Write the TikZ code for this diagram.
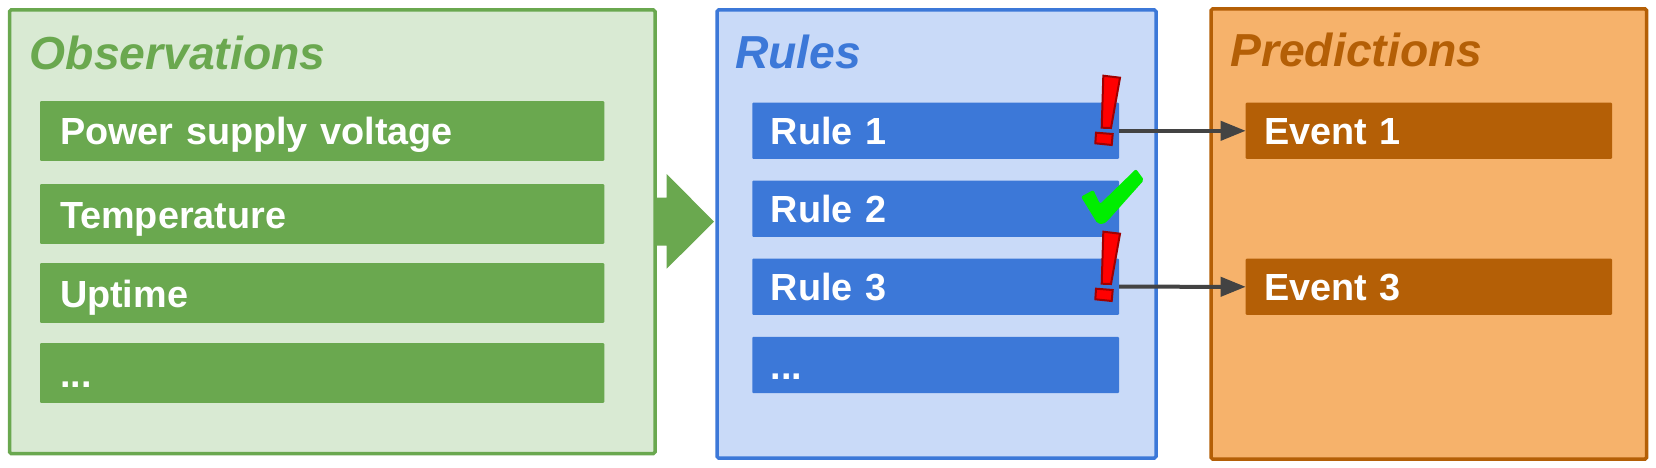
\documentclass[tikz,border=0pt]{standalone}
\usepackage{fontspec}
\setmainfont{Liberation Sans}
\usetikzlibrary{arrows.meta}
\definecolor{obsfill}{HTML}{D9EAD3}
\definecolor{obsdark}{HTML}{6AA84F}
\definecolor{rulfill}{HTML}{C9DAF8}
\definecolor{ruldark}{HTML}{3C78D8}
\definecolor{prefill}{HTML}{F6B26B}
\definecolor{predark}{HTML}{B45F06}
\definecolor{conncol}{HTML}{434343}
\definecolor{bangred}{HTML}{FF0000}
\definecolor{bangedge}{HTML}{A00000}
\definecolor{checkgreen}{HTML}{00EE00}
\begin{document}
\begin{tikzpicture}[x=1pt,y=-1pt,
  panel/.style 2 args={draw=#1, fill=#2, line width=3.5pt, rounded corners=1.5pt,
    anchor=north west, outer sep=0pt, inner sep=0pt},
  bar/.style={fill=#1, anchor=west, outer sep=0pt, inner xsep=18.5pt, inner ysep=0pt,
    text=white, font=\fontsize{37.8}{40}\selectfont\bfseries,
    text height=33pt, text depth=5pt, align=left, rounded corners=1pt},
  title/.style={anchor=base west, inner sep=0pt, text=#1,
    font=\fontsize{46.3}{50}\selectfont\bfseries\itshape},
  conn/.style={draw=conncol, line width=4pt, -{Triangle[length=25pt,width=19pt]}},
  bangmark/.pic={
    \filldraw[fill=bangred, draw=bangedge, line width=2pt]
      (-4.7,-34.3) -- (12,-32.3) -- (3,18) -- (-6.3,17.7) -- cycle;
    \filldraw[fill=bangred, draw=bangedge, line width=2pt]
      (-12,22.7) -- (4.7,24) -- (3.7,35) -- (-12.7,33.3) -- cycle;
  },
]
\useasboundingbox (0,0) rectangle (1656,468);

% panels
\node[panel={obsdark}{obsfill}, minimum width=645.5pt, minimum height=443.5pt] (obs) at (9.5,10) {};
\node[panel={ruldark}{rulfill}, minimum width=439pt, minimum height=448pt] (rules) at (717,10) {};
\node[panel={predark}{prefill}, minimum width=435.5pt, minimum height=450pt] (pred) at (1211,9) {};

% titles
\node[title=obsdark] (obst) at (29.5,69.3) {Observations};
\node[title=ruldark] (rult) at (735,68.3) {Rules};
\node[title=predark] (pret) at (1230,67) {Predictions};

% observation bars
\node[bar=obsdark, text width=524.3pt, minimum height=59.7pt, inner xsep=20pt] (o1) at (40,131) {Power supply voltage};
\node[bar=obsdark, text width=524.3pt, minimum height=59.7pt, inner xsep=20pt] (o2) at (40,214) {Temperature};
\node[bar=obsdark, text width=524.3pt, minimum height=59.7pt, inner xsep=20pt] (o3) at (40,293) {Uptime};
\node[bar=obsdark, text width=524.3pt, minimum height=59.7pt, inner xsep=20pt] (o4) at (40,373) {...};

% rule bars
\node[bar=ruldark, text width=329.7pt, minimum height=56.3pt] (r1) at (752.3,130.8) {Rule 1};
\node[bar=ruldark, text width=329.7pt, minimum height=56.3pt] (r2) at (752.3,208.8) {Rule 2};
\node[bar=ruldark, text width=329.7pt, minimum height=56.3pt] (r3) at (752.3,286.7) {Rule 3};
\node[bar=ruldark, text width=329.7pt, minimum height=56.3pt] (r4) at (752.3,365) {...};

% event bars
\node[bar=predark, text width=329.3pt, minimum height=56.3pt] (e1) at (1245.7,130.8) {Event 1};
\node[bar=predark, text width=329.3pt, minimum height=56.3pt] (e3) at (1245.7,286.8) {Event 3};

% block arrow between observations and rules
\fill[obsdark] (655,197.7) -- (666.7,197.7) -- (666.7,174) -- (714,221.7)
  -- (666.7,268.7) -- (666.7,245.7) -- (655,245.7) -- cycle;

% connectors
\draw[conn] (r1.east) -- (e1.west);
\draw[conn] (r3.east) -- (e3.west);

% marks
\pic[shift={(-11,-20.8)}] at (r1.east) {bangmark};
\pic[shift={(-11,-20.7)}] at (r3.east) {bangmark};
\fill[checkgreen, rounded corners=2pt]
  (1081,196.7) -- (1093.3,190) -- (1100,204) -- (1136,169) -- (1144,180)
  -- (1108.3,220) -- (1103.3,224.3) -- (1097.3,223.3) -- cycle;
\end{tikzpicture}
\end{document}
